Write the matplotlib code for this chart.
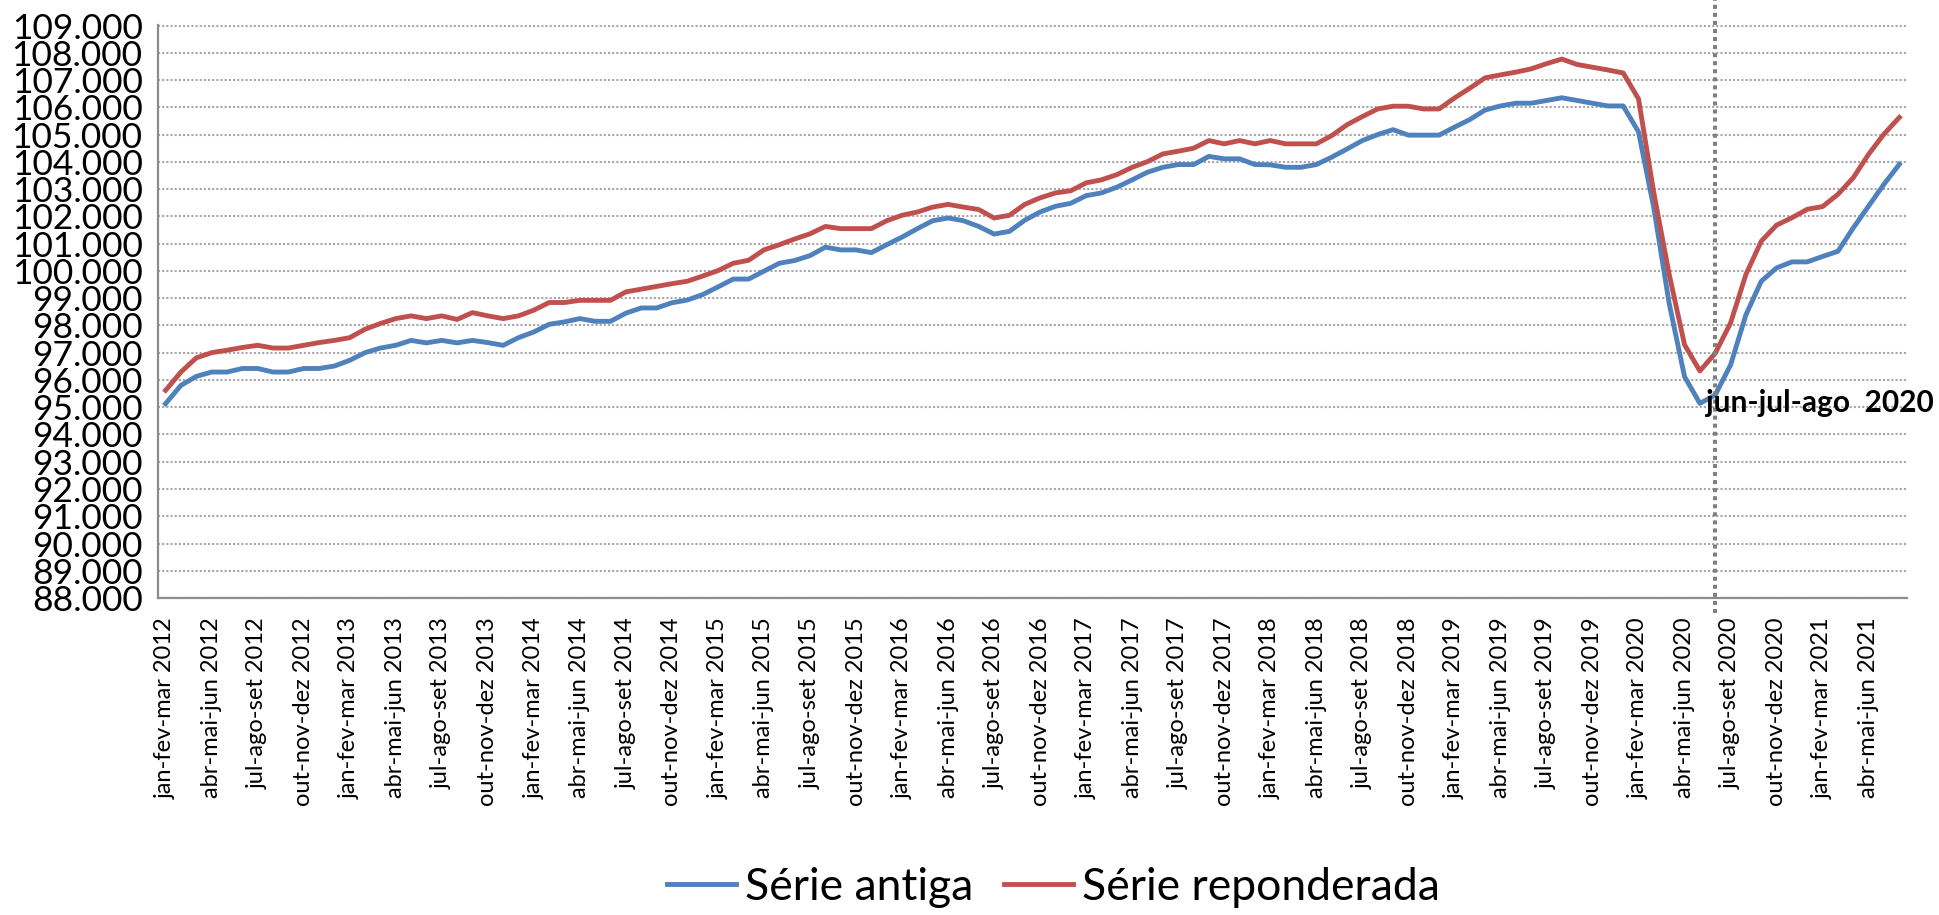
import matplotlib
matplotlib.use("Agg")
import matplotlib.pyplot as plt

plt.rcParams["font.family"] = ["Lato", "DejaVu Sans"]

MONTHS = ["jan", "fev", "mar", "abr", "mai", "jun",
          "jul", "ago", "set", "out", "nov", "dez"]
START_YEAR = 2012
N_PERIODS = 114  # jan-fev-mar 2012 .. jun-jul-ago 2021

# rolling quarter index
serie_antiga = [
    95.13, 95.80, 96.13, 96.29, 96.29, 96.42, 96.42, 96.29, 96.29, 96.42,
    96.42, 96.51, 96.72, 97.00, 97.17, 97.27, 97.45, 97.36, 97.45, 97.36,
    97.45, 97.37, 97.27, 97.55, 97.76, 98.04, 98.13, 98.25, 98.15, 98.15,
    98.45, 98.64, 98.64, 98.83, 98.93, 99.13, 99.41, 99.70, 99.70, 99.99,
    100.28, 100.38, 100.56, 100.87, 100.77, 100.77, 100.67, 100.96, 101.24, 101.55,
    101.84, 101.94, 101.84, 101.63, 101.35, 101.45, 101.86, 102.16, 102.37, 102.48,
    102.76, 102.86, 103.07, 103.34, 103.62, 103.80, 103.90, 103.90, 104.20, 104.11,
    104.11, 103.90, 103.89, 103.80, 103.80, 103.90, 104.17, 104.47, 104.78, 105.00,
    105.18, 104.98, 104.98, 104.98, 105.27, 105.55, 105.90, 106.05, 106.15, 106.15,
    106.25, 106.35, 106.25, 106.15, 106.05, 106.05, 105.10, 102.30, 98.80, 96.12,
    95.14, 95.45, 96.55, 98.39, 99.62, 100.11, 100.33, 100.33, 100.53, 100.72,
    101.58, 102.38, 103.18, 103.91,
]
serie_reponderada = [
    95.62, 96.29, 96.81, 97.00, 97.09, 97.19, 97.27, 97.17, 97.17, 97.27,
    97.37, 97.45, 97.55, 97.86, 98.07, 98.25, 98.35, 98.25, 98.35, 98.22,
    98.47, 98.35, 98.25, 98.35, 98.56, 98.84, 98.84, 98.92, 98.92, 98.92,
    99.23, 99.33, 99.43, 99.53, 99.62, 99.81, 100.01, 100.28, 100.39, 100.77,
    100.96, 101.17, 101.36, 101.63, 101.55, 101.55, 101.55, 101.84, 102.04, 102.16,
    102.34, 102.44, 102.34, 102.25, 101.94, 102.04, 102.44, 102.68, 102.86, 102.94,
    103.23, 103.34, 103.53, 103.80, 104.01, 104.29, 104.39, 104.50, 104.78, 104.66,
    104.78, 104.66, 104.78, 104.66, 104.66, 104.66, 104.96, 105.36, 105.66, 105.94,
    106.04, 106.04, 105.94, 105.94, 106.34, 106.70, 107.08, 107.19, 107.29, 107.41,
    107.60, 107.77, 107.57, 107.47, 107.37, 107.26, 106.31, 102.85, 99.87, 97.29,
    96.33, 96.98, 98.09, 99.87, 101.09, 101.68, 101.95, 102.26, 102.36, 102.81,
    103.42, 104.28, 105.02, 105.63,
]

MARK_PERIOD = "jun-jul-ago 2020"
MARK_TEXT = "jun-jul-ago  2020"
Y_TICKS = list(range(88, 110))

BLUE = "#4F81BD"
RED = "#C0504D"


def period_label(i):
    m = i % 12
    year = START_YEAR + i // 12
    return "-".join(MONTHS[(m + k) % 12] for k in range(3)) + f" {year}"


periods = [period_label(i) for i in range(N_PERIODS)]
x = list(range(N_PERIODS))

fig = plt.figure(figsize=(19.4, 9.15), dpi=100)
ax = fig.add_axes([0.0814, 0.3464, 0.9016, 0.6266])

ax.plot(x, serie_antiga, color=BLUE, lw=3.5, label="Série antiga",
        solid_joinstyle="round", zorder=3)
ax.plot(x, serie_reponderada, color=RED, lw=3.5, label="Série reponderada",
        solid_joinstyle="round", zorder=3)

ax.set_xlim(-0.5, N_PERIODS - 0.5)
ax.set_ylim(88, 109.03)
ax.set_yticks(Y_TICKS)
ax.set_yticklabels([f"{v:.3f}" for v in Y_TICKS], fontsize=25.5)
tick_idx = list(range(0, N_PERIODS, 3))
ax.set_xticks(tick_idx)
ax.set_xticklabels([periods[i] for i in tick_idx], rotation=90, fontsize=17)
ax.tick_params(axis="both", length=0)
ax.tick_params(axis="y", pad=11)
ax.tick_params(axis="x", pad=14)

ax.yaxis.grid(True, linestyle=(0, (1, 1)), color="#a6a6a6", lw=1.5)
ax.set_axisbelow(True)
for s in ("top", "right"):
    ax.spines[s].set_visible(False)
for s in ("left", "bottom"):
    ax.spines[s].set_color("#8c8c8c")
    ax.spines[s].set_linewidth(1.6)

# marker for the trough quarter
xm = periods.index(MARK_PERIOD)
ax.plot([xm, xm], [87.45, 109.95], color="#808080", lw=2.9,
        linestyle=(0, (1, 1)), clip_on=False, zorder=4)
ax.text(xm - 0.6, 95.15, MARK_TEXT, fontsize=21.5, fontweight="bold",
        ha="left", va="center", zorder=5)

fig.legend(loc="center", bbox_to_anchor=(0.543, 0.03), ncol=2, frameon=False,
           fontsize=32, handlelength=1.55, handletextpad=0.2, columnspacing=0.7)

fig.savefig("out.png", dpi=100)
